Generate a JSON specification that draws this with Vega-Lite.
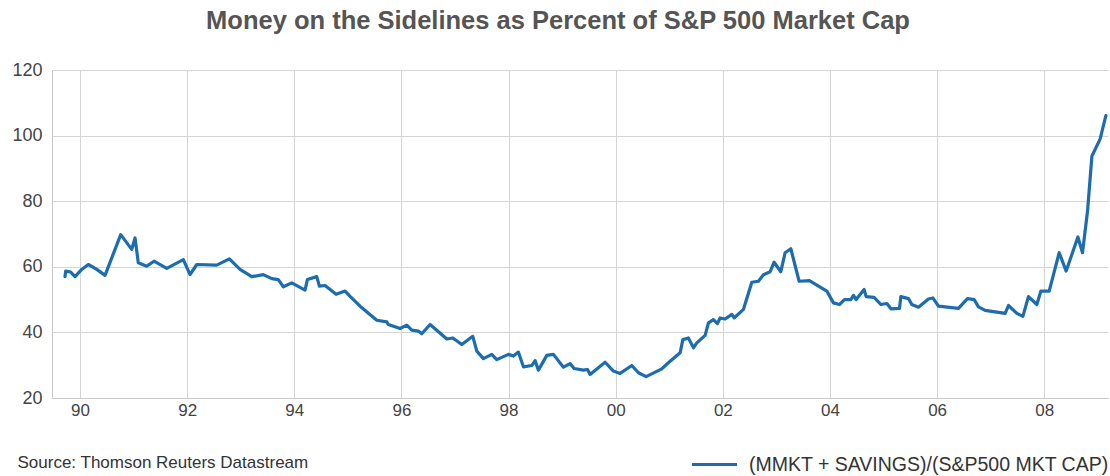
{
  "$schema": "https://vega.github.io/schema/vega-lite/v6.json",
  "width": 1056,
  "height": 328,
  "autosize": {"type": "none"},
  "padding": {"left": 52, "top": 70, "right": 2, "bottom": 78},
  "background": "white",
  "config": {"view": {"stroke": null}, "font": "Liberation Sans"},
  "title": {
    "text": "Money on the Sidelines as Percent of S&P 500 Market Cap",
    "font": "Liberation Sans",
    "fontSize": 25.5,
    "fontWeight": "bold",
    "color": "#555555",
    "anchor": "middle",
    "offset": 37,
    "dy": 10,
    "dx": -22
  },
  "data": {
    "values": [
      {"year": 1989.720, "pct": 57.0},
      {"year": 1989.733, "pct": 58.7},
      {"year": 1989.826, "pct": 58.4},
      {"year": 1989.907, "pct": 57.0},
      {"year": 1990.032, "pct": 59.2},
      {"year": 1990.155, "pct": 60.7},
      {"year": 1990.312, "pct": 59.2},
      {"year": 1990.467, "pct": 57.4},
      {"year": 1990.760, "pct": 69.8},
      {"year": 1990.965, "pct": 65.3},
      {"year": 1991.027, "pct": 68.8},
      {"year": 1991.088, "pct": 61.2},
      {"year": 1991.245, "pct": 60.2},
      {"year": 1991.382, "pct": 61.7},
      {"year": 1991.619, "pct": 59.5},
      {"year": 1991.929, "pct": 62.2},
      {"year": 1992.054, "pct": 57.6},
      {"year": 1992.179, "pct": 60.7},
      {"year": 1992.552, "pct": 60.5},
      {"year": 1992.788, "pct": 62.4},
      {"year": 1992.987, "pct": 59.2},
      {"year": 1993.206, "pct": 57.0},
      {"year": 1993.422, "pct": 57.6},
      {"year": 1993.579, "pct": 56.4},
      {"year": 1993.702, "pct": 56.1},
      {"year": 1993.796, "pct": 53.9},
      {"year": 1993.953, "pct": 55.1},
      {"year": 1994.201, "pct": 52.9},
      {"year": 1994.244, "pct": 56.1},
      {"year": 1994.419, "pct": 57.0},
      {"year": 1994.468, "pct": 54.1},
      {"year": 1994.574, "pct": 54.3},
      {"year": 1994.780, "pct": 51.6},
      {"year": 1994.948, "pct": 52.6},
      {"year": 1995.041, "pct": 51.0},
      {"year": 1995.228, "pct": 48.0},
      {"year": 1995.540, "pct": 43.7},
      {"year": 1995.726, "pct": 43.2},
      {"year": 1995.756, "pct": 42.4},
      {"year": 1995.975, "pct": 41.2},
      {"year": 1996.100, "pct": 42.2},
      {"year": 1996.193, "pct": 40.7},
      {"year": 1996.316, "pct": 40.4},
      {"year": 1996.380, "pct": 39.6},
      {"year": 1996.535, "pct": 42.4},
      {"year": 1996.847, "pct": 38.0},
      {"year": 1996.959, "pct": 38.3},
      {"year": 1997.127, "pct": 36.3},
      {"year": 1997.332, "pct": 38.8},
      {"year": 1997.407, "pct": 34.3},
      {"year": 1997.530, "pct": 32.0},
      {"year": 1997.687, "pct": 33.3},
      {"year": 1997.780, "pct": 31.7},
      {"year": 1997.997, "pct": 33.3},
      {"year": 1998.090, "pct": 32.8},
      {"year": 1998.183, "pct": 34.0},
      {"year": 1998.277, "pct": 29.5},
      {"year": 1998.433, "pct": 29.9},
      {"year": 1998.495, "pct": 31.4},
      {"year": 1998.557, "pct": 28.5},
      {"year": 1998.714, "pct": 33.0},
      {"year": 1998.837, "pct": 33.3},
      {"year": 1999.024, "pct": 29.4},
      {"year": 1999.149, "pct": 30.5},
      {"year": 1999.223, "pct": 29.0},
      {"year": 1999.397, "pct": 28.5},
      {"year": 1999.472, "pct": 28.7},
      {"year": 1999.522, "pct": 27.2},
      {"year": 1999.802, "pct": 30.9},
      {"year": 1999.957, "pct": 28.2},
      {"year": 2000.082, "pct": 27.5},
      {"year": 2000.301, "pct": 29.9},
      {"year": 2000.424, "pct": 27.7},
      {"year": 2000.568, "pct": 26.5},
      {"year": 2000.861, "pct": 28.9},
      {"year": 2001.016, "pct": 31.2},
      {"year": 2001.203, "pct": 33.8},
      {"year": 2001.253, "pct": 37.8},
      {"year": 2001.357, "pct": 38.3},
      {"year": 2001.451, "pct": 35.3},
      {"year": 2001.514, "pct": 36.8},
      {"year": 2001.669, "pct": 39.1},
      {"year": 2001.731, "pct": 42.9},
      {"year": 2001.824, "pct": 43.9},
      {"year": 2001.899, "pct": 42.7},
      {"year": 2001.949, "pct": 44.4},
      {"year": 2002.043, "pct": 44.1},
      {"year": 2002.168, "pct": 45.5},
      {"year": 2002.211, "pct": 44.4},
      {"year": 2002.384, "pct": 47.0},
      {"year": 2002.541, "pct": 55.3},
      {"year": 2002.664, "pct": 55.6},
      {"year": 2002.758, "pct": 57.6},
      {"year": 2002.883, "pct": 58.5},
      {"year": 2002.957, "pct": 61.4},
      {"year": 2003.082, "pct": 58.5},
      {"year": 2003.163, "pct": 64.3},
      {"year": 2003.269, "pct": 65.5},
      {"year": 2003.424, "pct": 55.6},
      {"year": 2003.616, "pct": 55.8},
      {"year": 2003.941, "pct": 52.6},
      {"year": 2004.064, "pct": 49.0},
      {"year": 2004.177, "pct": 48.5},
      {"year": 2004.270, "pct": 50.0},
      {"year": 2004.389, "pct": 50.0},
      {"year": 2004.438, "pct": 51.3},
      {"year": 2004.488, "pct": 50.0},
      {"year": 2004.637, "pct": 53.1},
      {"year": 2004.675, "pct": 50.9},
      {"year": 2004.824, "pct": 50.7},
      {"year": 2004.950, "pct": 48.5},
      {"year": 2005.062, "pct": 48.8},
      {"year": 2005.137, "pct": 47.2},
      {"year": 2005.297, "pct": 47.3},
      {"year": 2005.323, "pct": 50.9},
      {"year": 2005.465, "pct": 50.3},
      {"year": 2005.528, "pct": 48.5},
      {"year": 2005.651, "pct": 47.7},
      {"year": 2005.838, "pct": 50.2},
      {"year": 2005.920, "pct": 50.5},
      {"year": 2006.025, "pct": 48.0},
      {"year": 2006.398, "pct": 47.3},
      {"year": 2006.567, "pct": 50.3},
      {"year": 2006.692, "pct": 50.0},
      {"year": 2006.772, "pct": 47.8},
      {"year": 2006.897, "pct": 46.7},
      {"year": 2007.270, "pct": 45.8},
      {"year": 2007.332, "pct": 48.2},
      {"year": 2007.489, "pct": 45.8},
      {"year": 2007.601, "pct": 44.9},
      {"year": 2007.705, "pct": 50.9},
      {"year": 2007.862, "pct": 48.5},
      {"year": 2007.937, "pct": 52.6},
      {"year": 2008.092, "pct": 52.6},
      {"year": 2008.279, "pct": 64.3},
      {"year": 2008.409, "pct": 58.7},
      {"year": 2008.628, "pct": 69.1},
      {"year": 2008.714, "pct": 64.3},
      {"year": 2008.808, "pct": 77.0},
      {"year": 2008.889, "pct": 93.7},
      {"year": 2009.044, "pct": 99.0},
      {"year": 2009.150, "pct": 106.1}
    ]
  },
  "mark": {"type": "line", "strokeWidth": 3.2, "strokeJoin": "round", "strokeCap": "round"},
  "encoding": {
    "x": {
      "field": "year",
      "type": "quantitative",
      "scale": {"domain": [1989.477, 2009.19], "nice": false, "zero": false},
      "axis": {
        "values": [1990, 1992, 1994, 1996, 1998, 2000, 2002, 2004, 2006, 2008],
        "labelExpr": "slice(toString(datum.value), 2)",
        "grid": true,
        "gridColor": "#d4d4d4",
        "gridWidth": 1,
        "domainColor": "#c8c8c8",
        "ticks": false,
        "labelFont": "Liberation Sans",
        "labelFontSize": 17,
        "labelColor": "#444444",
        "labelPadding": 4,
        "title": "Source: Thomson Reuters Datastream",
        "titleFont": "Liberation Sans",
        "titleFontSize": 17,
        "titleFontWeight": "normal",
        "titleColor": "#333333",
        "titleAnchor": "start",
        "titleAlign": "left",
        "titleBaseline": "middle",
        "titleX": -35,
        "titleY": 64
      }
    },
    "y": {
      "field": "pct",
      "type": "quantitative",
      "scale": {"domain": [20, 120], "nice": false, "zero": false},
      "axis": {
        "values": [20, 40, 60, 80, 100, 120],
        "grid": true,
        "gridColor": "#d4d4d4",
        "gridWidth": 1,
        "domainColor": "#c8c8c8",
        "ticks": false,
        "labelFont": "Liberation Sans",
        "labelFontSize": 18,
        "labelColor": "#444444",
        "labelPadding": 10,
        "title": null
      }
    },
    "color": {
      "datum": "(MMKT + SAVINGS)/(S&P500 MKT CAP)",
      "scale": {"range": ["#1c6cae"]},
      "legend": {
        "title": null,
        "orient": "none",
        "legendX": 638,
        "legendY": 370,
        "symbolType": "stroke",
        "symbolSize": 2025,
        "symbolStrokeWidth": 3.2,
        "labelFont": "Liberation Sans",
        "labelFontSize": 19.5,
        "labelColor": "#333333",
        "labelLimit": 0,
        "labelOffset": 10
      }
    }
  }
}
